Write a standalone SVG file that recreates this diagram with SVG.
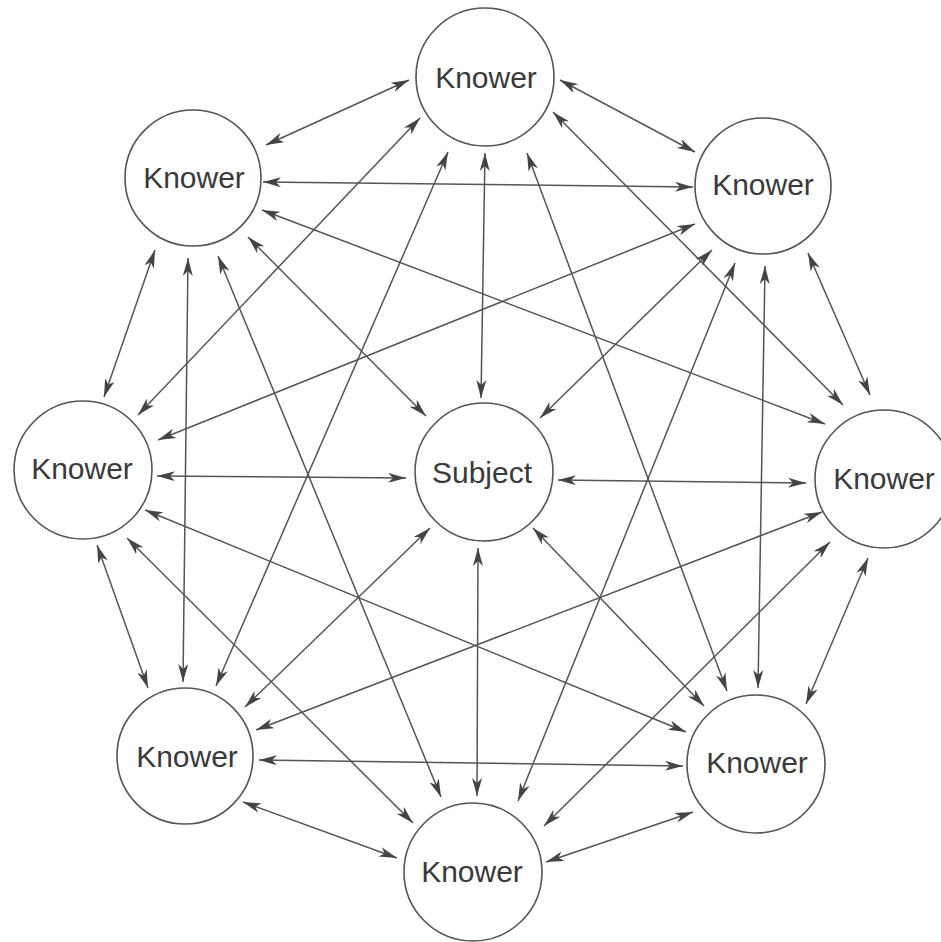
<svg xmlns="http://www.w3.org/2000/svg" width="941" height="942" viewBox="0 0 941 942">
<style>
.node circle{fill:#fff;stroke:#555;stroke-width:1.6}
.node text{font-family:"Liberation Sans",Arial,sans-serif;font-size:30px;fill:#3a3a3a;text-anchor:middle}
.edges line{stroke:#555;stroke-width:1.5;marker-start:url(#ah);marker-end:url(#ah)}
</style>
<defs>
<marker id="ah" markerUnits="userSpaceOnUse" markerWidth="18" markerHeight="10" refX="18" refY="5" orient="auto-start-reverse" viewBox="0 0 18 10">
<path d="M0,0 L18,5 L0,10 L5,5 z" fill="#444"/>
</marker>
</defs>
<rect width="941" height="942" fill="#fff"/>
<g class="edges">
<line x1="409" y1="80" x2="266" y2="145"/>
<line x1="560" y1="80" x2="695" y2="152"/>
<line x1="485" y1="153" x2="481" y2="398"/>
<line x1="420" y1="118" x2="138" y2="415"/>
<line x1="448" y1="152" x2="216" y2="686"/>
<line x1="527" y1="153" x2="727" y2="691"/>
<line x1="553" y1="112" x2="843" y2="405"/>
<line x1="263" y1="182" x2="693" y2="187"/>
<line x1="262" y1="210" x2="825" y2="424"/>
<line x1="248" y1="237" x2="426" y2="416"/>
<line x1="155" y1="250" x2="104" y2="397"/>
<line x1="188" y1="258" x2="183" y2="682"/>
<line x1="218" y1="256" x2="441" y2="797"/>
<line x1="695" y1="224" x2="158" y2="440"/>
<line x1="712" y1="250" x2="540" y2="418"/>
<line x1="735" y1="263" x2="518" y2="801"/>
<line x1="765" y1="266" x2="758" y2="688"/>
<line x1="808" y1="253" x2="870" y2="395"/>
<line x1="157" y1="476" x2="406" y2="478"/>
<line x1="145" y1="510" x2="686" y2="732"/>
<line x1="127" y1="538" x2="413" y2="823"/>
<line x1="97" y1="545" x2="148" y2="688"/>
<line x1="558" y1="480" x2="806" y2="483"/>
<line x1="430" y1="528" x2="245" y2="707"/>
<line x1="478" y1="548" x2="477" y2="796"/>
<line x1="533" y1="528" x2="704" y2="706"/>
<line x1="822" y1="512" x2="256" y2="730"/>
<line x1="830" y1="542" x2="544" y2="826"/>
<line x1="868" y1="558" x2="806" y2="704"/>
<line x1="259" y1="760" x2="683" y2="766"/>
<line x1="243" y1="802" x2="397" y2="858"/>
<line x1="693" y1="812" x2="546" y2="862"/>
</g>
<g id="node-top" class="node"><circle cx="485" cy="77" r="69"/><text x="486" y="88">Knower</text></g>
<g id="node-topleft" class="node"><circle cx="193" cy="178" r="68"/><text x="194" y="188">Knower</text></g>
<g id="node-topright" class="node"><circle cx="763" cy="186" r="68"/><text x="763" y="195">Knower</text></g>
<g id="node-left" class="node"><circle cx="83" cy="470" r="69"/><text x="82" y="479">Knower</text></g>
<g id="node-subject" class="node"><circle cx="484" cy="472" r="69"/><text x="482" y="483">Subject</text></g>
<g id="node-right" class="node"><circle cx="884" cy="479" r="69"/><text x="884" y="489">Knower</text></g>
<g id="node-bottomleft" class="node"><circle cx="185" cy="756" r="68"/><text x="187" y="767">Knower</text></g>
<g id="node-bottomright" class="node"><circle cx="756" cy="764" r="69"/><text x="757" y="773">Knower</text></g>
<g id="node-bottom" class="node"><circle cx="473" cy="872" r="69"/><text x="472" y="882">Knower</text></g>
</svg>
